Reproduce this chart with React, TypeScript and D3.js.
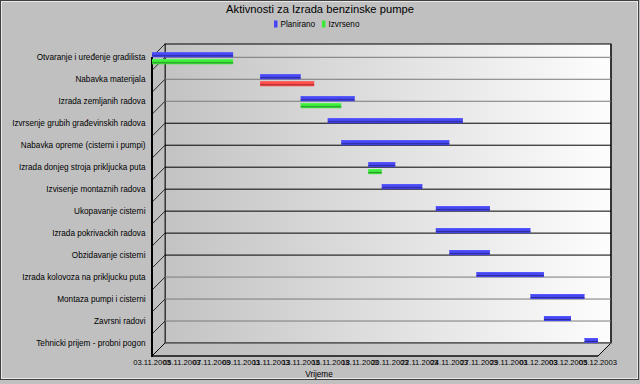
import React, { useEffect, useRef } from "react";
import * as d3 from "d3";

const chartTitle = "Aktivnosti za Izrada benzinske pumpe";
const axisTitle = "Vrijeme";
const seriesNames = ["Planirano", "Izvrseno"];

const tasks = [
  "Otvaranje i uređenje gradilista",
  "Nabavka materijala",
  "Izrada zemljanih radova",
  "Izvrsenje grubih građevinskih radova",
  "Nabavka opreme (cisterni i pumpi)",
  "Izrada donjeg stroja prikljucka puta",
  "Izvisenje montaznih radova",
  "Ukopavanje cisterni",
  "Izrada pokrivackih radova",
  "Obzidavanje cisterni",
  "Izrada kolovoza na prikljucku puta",
  "Montaza pumpi i cisterni",
  "Zavrsni radovi",
  "Tehnicki prijem - probni pogon"
];

const plannedStart = [
  "03.11.2003", "11.11.2003", "14.11.2003", "16.11.2003", "17.11.2003",
  "19.11.2003", "20.11.2003", "24.11.2003", "24.11.2003", "25.11.2003",
  "27.11.2003", "01.12.2003", "02.12.2003", "05.12.2003"
];
const plannedEnd = [
  "09.11.2003", "14.11.2003", "18.11.2003", "26.11.2003", "25.11.2003",
  "21.11.2003", "23.11.2003", "28.11.2003", "01.12.2003", "28.11.2003",
  "02.12.2003", "05.12.2003", "04.12.2003", "06.12.2003"
];

// actual progress (late = finished after plan)
const actualTasks = [0, 1, 2, 5];
const actualStart = ["03.11.2003", "11.11.2003", "14.11.2003", "19.11.2003"];
const actualEnd = ["09.11.2003", "15.11.2003", "17.11.2003", "20.11.2003"];
const actualLate = [false, true, false, false];

const tickLabels = [
  "03.11.2003", "05.11.2003", "07.11.2003", "09.11.2003", "11.11.2003",
  "13.11.2003", "16.11.2003", "18.11.2003", "20.11.2003", "22.11.2003",
  "24.11.2003", "27.11.2003", "29.11.2003", "01.12.2003", "03.12.2003",
  "05.12.2003"
];
const axisStart = "03.11.2003";
const axisEnd = "06.12.2003";

const parse = d3.timeParse("%d.%m.%Y");
const FONT = "'Liberation Sans', Arial, sans-serif";

const App = () => {
  const ref = useRef(null);

  useEffect(() => {
    const svg = d3.select(ref.current);
    svg.selectAll("*").remove();

    const W = 640;
    const H = 384;
    const depth = 13;
    const left = 152;
    const right = 598;
    const top = 44;
    const bottom = 343;

    // front plane x scale
    const x = d3
      .scaleTime()
      .domain([parse(axisStart), parse(axisEnd)])
      .range([left, right]);

    // rows on back plane
    const y = d3
      .scalePoint()
      .domain(tasks)
      .range([57.3, bottom]);

    const defs = svg.append("defs");
    const grad = defs
      .append("linearGradient")
      .attr("id", "back")
      .attr("x1", 0)
      .attr("x2", 1)
      .attr("y1", 0)
      .attr("y2", 0);
    grad.append("stop").attr("offset", 0).attr("stop-color", "#c3c3c3");
    grad.append("stop").attr("offset", 1).attr("stop-color", "#fdfdfd");

    const floorGrad = defs
      .append("linearGradient")
      .attr("id", "floor")
      .attr("x1", 0)
      .attr("x2", 1)
      .attr("y1", 0)
      .attr("y2", 0);
    floorGrad.append("stop").attr("offset", 0).attr("stop-color", "#bebebe");
    floorGrad.append("stop").attr("offset", 1).attr("stop-color", "#d6d6d6");

    // panel
    svg
      .append("rect")
      .attr("width", W)
      .attr("height", H)
      .attr("fill", "#c0c0c0");
    svg
      .append("rect")
      .attr("x", 0.5)
      .attr("y", 0.5)
      .attr("width", W - 2)
      .attr("height", H - 5)
      .attr("fill", "none")
      .attr("stroke", "#404040");
    svg
      .append("rect")
      .attr("x", 1.5)
      .attr("y", 1.5)
      .attr("width", W - 4)
      .attr("height", H - 7)
      .attr("fill", "none")
      .attr("stroke", "#e8e8e8");

    // title + legend
    svg
      .append("text")
      .attr("x", W / 2)
      .attr("y", 13)
      .attr("text-anchor", "middle")
      .attr("font-family", FONT)
      .attr("font-size", 11.2)
      .attr("fill", "#000")
      .text(chartTitle);

    const legendColors = ["#4646f2", "#3ce83c"];
    const legendX = [274, 322];
    seriesNames.forEach((name, i) => {
      svg
        .append("rect")
        .attr("x", legendX[i])
        .attr("y", 20.5)
        .attr("width", 3.5)
        .attr("height", 7)
        .attr("fill", legendColors[i]);
      svg
        .append("text")
        .attr("x", legendX[i] + 6.5)
        .attr("y", 27)
        .attr("font-family", FONT)
        .attr("font-size", 8.2)
        .attr("fill", "#000")
        .text(name);
    });

    // back wall
    svg
      .append("rect")
      .attr("x", left + depth)
      .attr("y", top)
      .attr("width", right - left)
      .attr("height", bottom - top)
      .attr("fill", "url(#back)")
      .attr("stroke", "#000")
      .attr("stroke-width", 1);

    // left wall
    svg
      .append("polygon")
      .attr(
        "points",
        [
          [left, top + depth],
          [left + depth, top],
          [left + depth, bottom],
          [left, bottom + depth]
        ].join(" ")
      )
      .attr("fill", "#c0c0c0")
      .attr("stroke", "#000")
      .attr("stroke-width", 0.8);

    // floor
    svg
      .append("polygon")
      .attr(
        "points",
        [
          [left + depth, bottom],
          [right + depth, bottom],
          [right, bottom + depth],
          [left, bottom + depth]
        ].join(" ")
      )
      .attr("fill", "url(#floor)")
      .attr("stroke", "#000")
      .attr("stroke-width", 0.8);

    // vertical grid
    const grid = d3.quantize(d3.interpolateDate(x.domain()[0], x.domain()[1]), 5);
    grid.forEach((d, i) => {
      const gx = x(d);
      if (i > 0 && i < 4) {
        svg
          .append("line")
          .attr("x1", gx + depth)
          .attr("x2", gx + depth)
          .attr("y1", top)
          .attr("y2", bottom)
          .attr("stroke", i === 3 ? "#000" : "#6a6a6a")
          .attr("stroke-width", 1);
      }
      svg
        .append("line")
        .attr("x1", gx + depth)
        .attr("y1", bottom)
        .attr("x2", gx)
        .attr("y2", bottom + depth)
        .attr("stroke", "#000")
        .attr("stroke-width", 0.8);
    });

    // horizontal grid + wall slashes
    tasks.forEach((t, i) => {
      const gy = y(t);
      svg
        .append("line")
        .attr("x1", left + depth)
        .attr("x2", right + depth)
        .attr("y1", gy)
        .attr("y2", gy)
        .attr("stroke", i < 3 || i > 9 ? "#7a7a7a" : "#000")
        .attr("stroke-width", 1);
      svg
        .append("line")
        .attr("x1", left + depth)
        .attr("y1", gy)
        .attr("x2", left)
        .attr("y2", gy + depth)
        .attr("stroke", "#000")
        .attr("stroke-width", 0.8);
    });

    // thick front edge of wall
    svg
      .append("line")
      .attr("x1", left)
      .attr("x2", left)
      .attr("y1", top + depth)
      .attr("y2", bottom + depth + 1)
      .attr("stroke", "#000")
      .attr("stroke-width", 2);
    svg
      .append("line")
      .attr("x1", left)
      .attr("x2", right)
      .attr("y1", bottom + depth)
      .attr("y2", bottom + depth)
      .attr("stroke", "#000")
      .attr("stroke-width", 1);

    // bars
    const drawBar = (s, e, yy, color) => {
      const x0 = x(parse(s));
      const x1 = x(parse(e));
      const c = d3.color(color);
      svg
        .append("rect")
        .attr("x", x0)
        .attr("y", yy)
        .attr("width", x1 - x0)
        .attr("height", 5)
        .attr("fill", c.formatHex());
      svg
        .append("rect")
        .attr("x", x0)
        .attr("y", yy)
        .attr("width", x1 - x0)
        .attr("height", 1)
        .attr("fill", c.brighter(0.6).formatHex());
      svg
        .append("rect")
        .attr("x", x0)
        .attr("y", yy + 3)
        .attr("width", x1 - x0)
        .attr("height", 1)
        .attr("fill", c.darker(1.3).formatHex());
    };

    tasks.forEach((t, i) => {
      drawBar(plannedStart[i], plannedEnd[i], y(t) - 5, "#4646f2");
    });
    actualTasks.forEach((ti, i) => {
      drawBar(
        actualStart[i],
        actualEnd[i],
        y(tasks[ti]) + 2,
        actualLate[i] ? "#ff4c4c" : "#3ce83c"
      );
    });

    // category labels
    svg
      .append("g")
      .selectAll("text")
      .data(tasks)
      .join("text")
      .attr("x", 145.5)
      .attr("y", d => y(d) + 3)
      .attr("text-anchor", "end")
      .attr("font-family", FONT)
      .attr("font-size", 8.2)
      .attr("fill", "#000")
      .text(d => d);

    // date tick labels
    const tx = d3.scalePoint().domain(tickLabels).range([left, right]);
    svg
      .append("g")
      .selectAll("text")
      .data(tickLabels)
      .join("text")
      .attr("x", d => tx(d))
      .attr("y", 365)
      .attr("text-anchor", "middle")
      .attr("font-family", FONT)
      .attr("font-size", 7.6)
      .attr("fill", "#000")
      .text(d => d);

    svg
      .append("text")
      .attr("x", 319)
      .attr("y", 377)
      .attr("text-anchor", "middle")
      .attr("font-family", FONT)
      .attr("font-size", 8.2)
      .attr("fill", "#000")
      .text(axisTitle);
  }, []);

  return (
    <svg
      ref={ref}
      width={640}
      height={384}
      style={{ position: "fixed", left: 0, top: 0, display: "block" }}
    />
  );
};

export default App;
